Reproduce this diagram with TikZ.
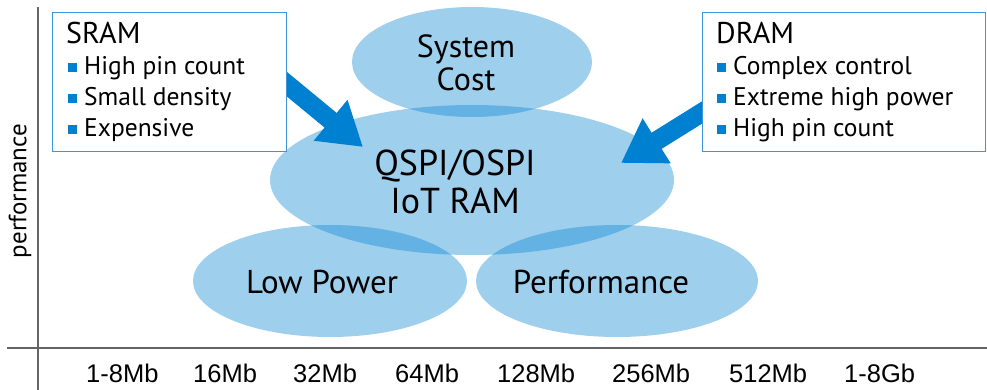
\documentclass[tikz,border=0pt]{standalone}
\usepackage{fontspec}
\setmainfont{PT Sans}
\newfontfamily\tickfont{Liberation Sans}
\usetikzlibrary{arrows.meta,shapes.geometric}
\definecolor{ellblue}{RGB}{13,135,212}
\definecolor{arrblue}{RGB}{0,128,208}
\definecolor{boxblue}{RGB}{60,150,220}
\definecolor{axisgray}{RGB}{100,100,100}
\tikzset{
  ell/.style={ellipse, fill=ellblue, fill opacity=0.4, draw=none, inner sep=0pt},
  elltext/.style={align=center, anchor=base, text=black},
  infobox/.style={draw=boxblue, line width=1.3pt, fill=white, inner sep=0pt, anchor=north west},
  bullet/.style={fill=arrblue, draw=none, minimum size=9pt, inner sep=0pt},
  itemtext/.style={anchor=base west, inner sep=0pt, font=\fontsize{25.5}{25.5}\selectfont},
  titletext/.style={anchor=base west, inner sep=0pt, font=\fontsize{30}{30}\selectfont},
  bigarrow/.style={draw=arrblue, line width=19pt, -{Triangle[length=42pt,width=50pt]}},
  axisline/.style={draw=axisgray, line width=2pt},
  ticklabel/.style={anchor=base west, inner sep=0pt, font=\tickfont\fontsize{25.5}{25.5}\selectfont}
}
\begin{document}
\begin{tikzpicture}[x=1pt,y=-1pt]
\useasboundingbox (0,0) rectangle (987,390);
\fill[white] (0,0) rectangle (987,390);

% axes
\coordinate (ytop) at (38,7);
\coordinate (ybot) at (38,390);
\coordinate (xleft) at (7,348);
\coordinate (xright) at (987,348);
\draw[axisline] (ytop) -- (ybot);
\draw[axisline] (xleft) -- (xright);

% ellipses
\node[ell, minimum width=240pt, minimum height=110pt] (cost) at (472,62) {};
\node[ell, minimum width=404pt, minimum height=150pt] (iot) at (472,180) {};
\node[ell, minimum width=274pt, minimum height=112pt] (lowpower) at (330,281) {};
\node[ell, minimum width=282pt, minimum height=112pt] (perf) at (617,281) {};

% multi-line nodes: anchor=base is the baseline of the last line
\node[elltext, font=\fontsize{32}{33}\selectfont] (costtxt) at (466,91) {System\\Cost};
\node[elltext, font=\fontsize{36}{38}\selectfont] (iottxt) at (455,213) {QSPI/OSPI\\IoT RAM};
\node[elltext, font=\fontsize{33}{33}\selectfont] (lptxt) at (322,293) {Low Power};
\node[elltext, font=\fontsize{33}{33}\selectfont] (perftxt) at (601,293) {Performance};

% box anchors (drawn after arrows)
\node[infobox, minimum width=234pt, minimum height=139pt, draw=none, fill=none] (sram) at (52,12) {};
\node[infobox, minimum width=285pt, minimum height=139pt, draw=none, fill=none] (dram) at (702,12) {};

\coordinate (sramtip) at (363,147);
\coordinate (dramtip) at (621,163);
\draw[bigarrow] ([xshift=-15pt,yshift=10pt]sram.east) -- (sramtip);
\draw[bigarrow] ([xshift=15pt,yshift=-21pt]dram.west) -- (dramtip);

\node[infobox, minimum width=234pt, minimum height=139pt] (srambox) at (52,12) {};
\node[infobox, minimum width=283pt, minimum height=139pt] (drambox) at (702,12) {};

% SRAM text
\node[titletext] (sramtitle) at (66,44) {SRAM};
\foreach \y/\t [count=\i] in {75/High pin count, 106/Small density, 137/Expensive} {
  \node[bullet] (sb\i) at (72.5,\y-7.5) {};
  \node[itemtext] (st\i) at (84,\y) {\t};
}
% DRAM text
\node[titletext] (dramtitle) at (716,44) {DRAM};
\foreach \y/\t [count=\i] in {75/Complex control, 106/Extreme high power, 137/High pin count} {
  \node[bullet] (db\i) at (721.5,\y-7.5) {};
  \node[itemtext] (dt\i) at (733,\y) {\t};
}

% axis labels
\node[rotate=90, font=\fontsize{25}{25}\selectfont, inner sep=0pt] (ylab) at (20,191) {performance};
\foreach \x/\t [count=\i] in {86/1-8Mb, 193/16Mb, 293/32Mb, 395/64Mb, 497/128Mb, 612/256Mb, 729/512Mb, 844/1-8Gb} {
  \node[ticklabel] (tick\i) at (\x,382) {\t};
}
\end{tikzpicture}
\end{document}
